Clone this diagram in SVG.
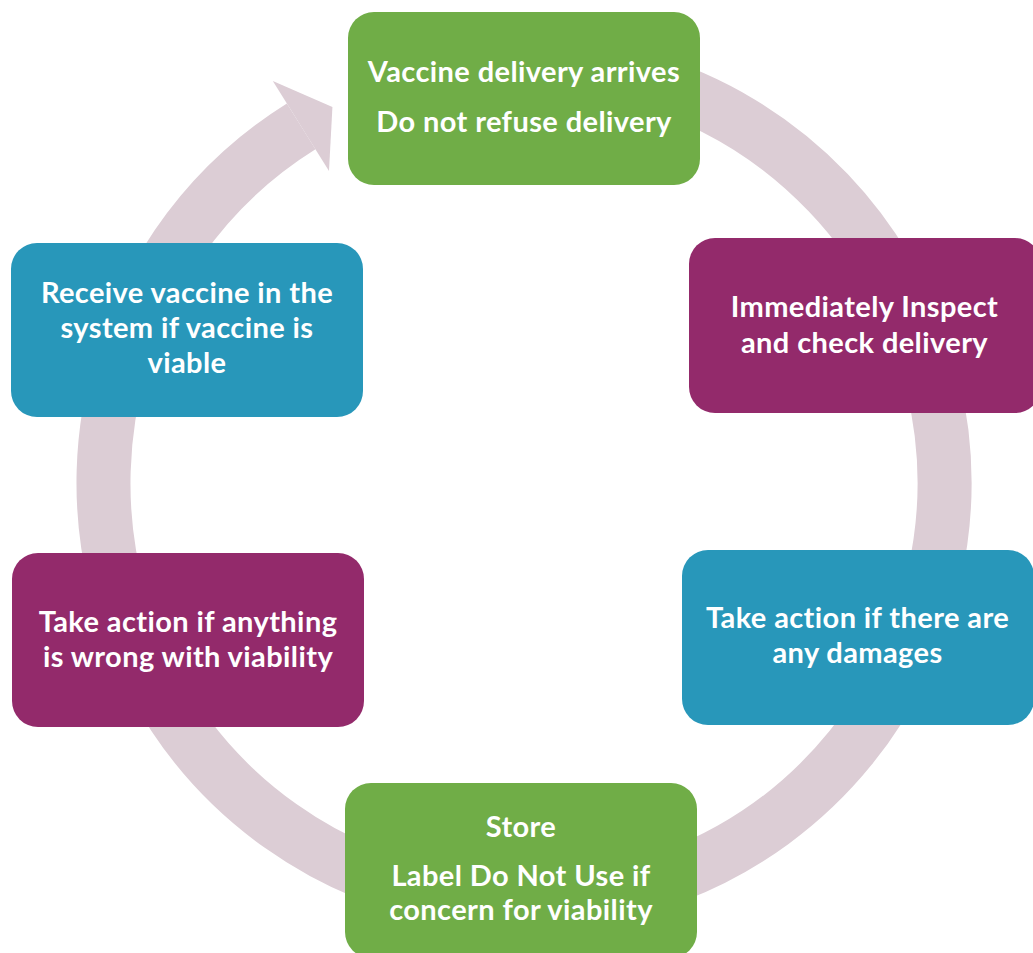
<svg xmlns="http://www.w3.org/2000/svg" width="1033" height="953" viewBox="0 0 1033 953">
<style>
.ring{fill:none;stroke:#DCCDD5;stroke-width:54}
.head{fill:#DCCDD5}
.box{stroke:none}
.green{fill:#70AD47}
.purple{fill:#932A6B}
.teal{fill:#2897BA}
.t{font-family:Lato,"Open Sans","Liberation Sans",sans-serif;font-weight:700;font-size:29px;letter-spacing:0.4px;fill:#FFFFFF;text-anchor:middle}
</style>
<rect width="1033" height="953" fill="#FFFFFF"/>
<g id="connectors">
<path class="ring" d="M 450.98 68.89 A 420.5 420.5 0 1 1 301.17 126.39"/>
<polygon class="head" points="272.82,81.02 332.42,106.99 328.99,170.92"/>
</g>
<g id="node-arrives">
<rect class="box green" x="348" y="12" width="352" height="173" rx="26"/>
<text class="t" x="524" y="82">Vaccine delivery arrives</text>
<text class="t" x="524" y="132">Do not refuse delivery</text>
</g>
<g id="node-inspect">
<rect class="box purple" x="689" y="238" width="352" height="175" rx="26"/>
<text class="t" x="864.5" y="317">Immediately Inspect</text>
<text class="t" x="864.5" y="353">and check delivery</text>
</g>
<g id="node-damages">
<rect class="box teal" x="682" y="550" width="352" height="175" rx="26"/>
<text class="t" x="857.5" y="628">Take action if there are</text>
<text class="t" x="857.5" y="663">any damages</text>
</g>
<g id="node-store">
<rect class="box green" x="345" y="783" width="352" height="175" rx="26"/>
<text class="t" x="521" y="837">Store</text>
<text class="t" x="521" y="886">Label Do Not Use if</text>
<text class="t" x="521" y="920">concern for viability</text>
</g>
<g id="node-viability">
<rect class="box purple" x="12" y="553" width="352" height="174" rx="26"/>
<text class="t" x="188" y="632">Take action if anything</text>
<text class="t" x="188" y="667">is wrong with viability</text>
</g>
<g id="node-receive">
<rect class="box teal" x="11" y="243" width="352" height="174" rx="26"/>
<text class="t" x="187" y="303">Receive vaccine in the</text>
<text class="t" x="187" y="338">system if vaccine is</text>
<text class="t" x="187" y="373">viable</text>
</g>
</svg>
